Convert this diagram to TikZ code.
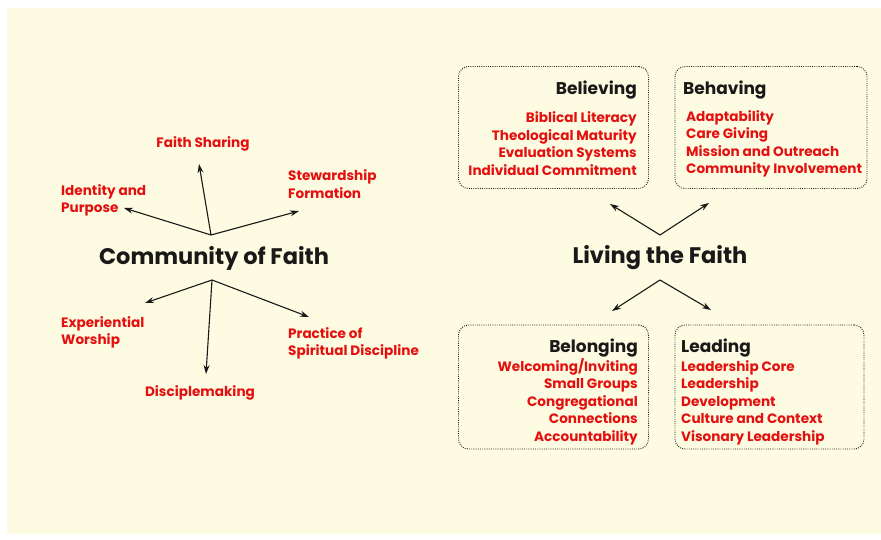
\documentclass[tikz,border=0pt]{standalone}
\usepackage{fontspec}
\setmainfont{Poppins}
\usetikzlibrary{arrows.meta}
\definecolor{cream}{RGB}{253,252,226}
\definecolor{itemred}{RGB}{228,16,16}
\definecolor{ink}{RGB}{25,25,25}
\tikzset{
  bigtitle/.style={font=\fontsize{22.5}{26}\selectfont\bfseries, text=ink, inner sep=0pt},
  boxtitle/.style={font=\fontsize{17}{20}\selectfont\bfseries, text=ink, inner sep=0pt},
  item/.style={font=\fontsize{13.6}{16}\selectfont\bfseries, text=itemred, inner sep=0pt},
  areabox/.style={draw=ink, dash pattern=on 0.9pt off 1.3pt, line width=0.9pt, rounded corners=10pt, inner sep=0pt},
  arr/.style={draw=ink, line width=1.1pt, -{Stealth[length=9pt,width=6pt]}}
}
\begin{document}
\begin{tikzpicture}[x=1pt,y=-1pt]
\useasboundingbox (0,0) rectangle (881,540);
\fill[cream] (7,8) rectangle (881,534);

% ---- Community of Faith ----
\node[bigtitle, anchor=base] (cof) at (214,265) {Community of Faith};
\coordinate (cu) at (211,235);
\coordinate (cl) at (212,280);
\coordinate (t1) at (124,208);
\coordinate (t2) at (199,164);
\coordinate (t3) at (299,211);
\coordinate (t4) at (145,303);
\coordinate (t5) at (206,374);
\coordinate (t6) at (309,317);
\draw[arr] (cu) -- (t1);
\draw[arr] (cu) -- (t2);
\draw[arr] (cu) -- (t3);
\draw[arr] (cl) -- (t4);
\draw[arr] (cl) -- (t5);
\draw[arr] (cl) -- (t6);

\node[item, anchor=base] (fs) at (203,148) {Faith Sharing};
\node[item, anchor=base west] (ip1) at (61,196) {Identity and};
\node[item, anchor=base west] (ip2) at (61,213) {Purpose};
\node[item, anchor=base west] (sf1) at (288,181) {Stewardship};
\node[item, anchor=base west] (sf2) at (288,199) {Formation};
\node[item, anchor=base west] (ew1) at (61,327) {Experiential};
\node[item, anchor=base west] (ew2) at (61,344) {Worship};
\node[item, anchor=base] (dm) at (200,396) {Disciplemaking};
\node[item, anchor=base west] (ps1) at (288,338) {Practice of};
\node[item, anchor=base west] (ps2) at (288,355) {Spiritual Discipline};

% ---- Living the Faith ----
\node[bigtitle, anchor=base] (ltf) at (660,264) {Living the Faith};
\coordinate (lu) at (660,235);
\coordinate (ll) at (660,280);
\coordinate (b1) at (610,204);
\coordinate (b2) at (709,203);
\coordinate (b3) at (612,311);
\coordinate (b4) at (711,310);
\draw[arr] (lu) -- (b1);
\draw[arr] (lu) -- (b2);
\draw[arr] (ll) -- (b3);
\draw[arr] (ll) -- (b4);

% boxes
\node[areabox, minimum width=190pt, minimum height=122pt] (boxbel) at (553.5,127.5) {};
\node[areabox, minimum width=192pt, minimum height=122pt] (boxbeh) at (771,127.5) {};
\node[areabox, minimum width=190pt, minimum height=124pt] (boxblg) at (553.5,387) {};
\node[areabox, minimum width=189pt, minimum height=124pt] (boxlead) at (769.5,387) {};

% Believing
\node[boxtitle, anchor=base east] (belT) at (637,95) {Believing};
\node[item, anchor=base east] (bel1) at (637,122.5) {Biblical Literacy};
\node[item, anchor=base east] (bel2) at (637,140.5) {Theological Maturity};
\node[item, anchor=base east] (bel3) at (637,158) {Evaluation Systems};
\node[item, anchor=base east] (bel4) at (637,175.5) {Individual Commitment};

% Behaving
\node[boxtitle, anchor=base west] (behT) at (683,95) {Behaving};
\node[item, anchor=base west] (beh1) at (686,121.5) {Adaptability};
\node[item, anchor=base west] (beh2) at (686,139) {Care Giving};
\node[item, anchor=base west] (beh3) at (686,156.5) {Mission and Outreach};
\node[item, anchor=base west] (beh4) at (686,174) {Community Involvement};

% Belonging
\node[boxtitle, anchor=base east] (blgT) at (638,352) {Belonging};
\node[item, anchor=base east] (blg1) at (638,371) {Welcoming/Inviting};
\node[item, anchor=base east] (blg2) at (638,388.5) {Small Groups};
\node[item, anchor=base east] (blg3) at (638,406) {Congregational};
\node[item, anchor=base east] (blg4) at (638,423.5) {Connections};
\node[item, anchor=base east] (blg5) at (638,441) {Accountability};

% Leading
\node[boxtitle, anchor=base west] (leadT) at (681,352) {Leading};
\node[item, anchor=base west] (lead1) at (681,371) {Leadership Core};
\node[item, anchor=base west] (lead2) at (681,388.5) {Leadership};
\node[item, anchor=base west] (lead3) at (681,406) {Development};
\node[item, anchor=base west] (lead4) at (681,423.5) {Culture and Context};
\node[item, anchor=base west] (lead5) at (681,441) {Visonary Leadership};
\end{tikzpicture}
\end{document}
